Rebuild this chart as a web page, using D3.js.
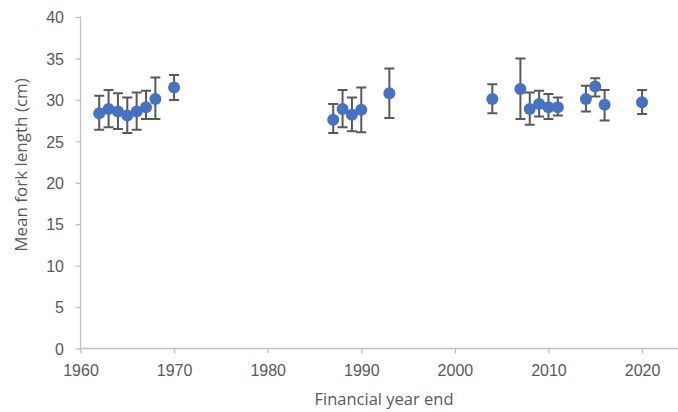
<!DOCTYPE html>
<html>
<head>
<meta charset="utf-8">
<script src="https://cdn.jsdelivr.net/npm/d3@7"></script>
<style>
  html, body { margin: 0; padding: 0; background: #fff; }
  svg { display: block; font-family: "Open Sans", "Liberation Sans", sans-serif; }
</style>
</head>
<body>
<svg id="chart" width="678" height="412"></svg>
<script>
// Financial year end
const years = [1962, 1963, 1964, 1965, 1966, 1967, 1968, 1970,
               1987, 1988, 1989, 1990, 1993,
               2004, 2007, 2008, 2009, 2010, 2011,
               2014, 2015, 2016, 2020];
// Mean fork length (cm)
const meanLength = [28.4, 28.9, 28.6, 28.1, 28.6, 29.1, 30.1, 31.5,
                    27.6, 28.9, 28.2, 28.8, 30.8,
                    30.1, 31.3, 28.9, 29.5, 29.1, 29.1,
                    30.1, 31.6, 29.4, 29.7];
// Upper and lower ends of the error bars (cm)
const upperBound = [30.5, 31.2, 30.8, 30.3, 30.9, 31.1, 32.7, 33.0,
                    29.5, 31.2, 30.3, 31.5, 33.8,
                    31.9, 35.0, 30.9, 31.1, 30.7, 30.3,
                    31.7, 32.6, 31.2, 31.2];
const lowerBound = [26.4, 26.7, 26.5, 26.0, 26.4, 27.7, 27.7, 30.0,
                    26.0, 26.7, 26.2, 26.1, 27.8,
                    28.4, 27.7, 27.0, 28.0, 27.7, 28.1,
                    28.6, 30.4, 27.5, 28.3];
const xTicks = [1960, 1970, 1980, 1990, 2000, 2010, 2020];
const yTicks = [0, 5, 10, 15, 20, 25, 30, 35, 40];

const svg = d3.select("#chart");
const plotLeft = 80.5, plotRight = 679.5, plotTop = 17, plotBottom = 348.5;

const x = d3.scaleLinear().domain([1960, 2024]).range([plotLeft, plotRight]);
const y = d3.scaleLinear().domain([0, 40]).range([plotBottom, plotTop]);

const axisColor = "#bfbfbf";
const textColor = "#595959";

// y axis
const yAxis = svg.append("g")
  .attr("transform", `translate(${plotLeft},0)`)
  .call(d3.axisLeft(y).tickValues(yTicks).tickSize(5).tickPadding(11.5).tickFormat(d3.format("d")));
// x axis
const xAxis = svg.append("g")
  .attr("transform", `translate(0,${plotBottom})`)
  .call(d3.axisBottom(x).tickValues(xTicks).tickSize(5).tickPadding(11.5).tickFormat(d3.format("d")));

[yAxis, xAxis].forEach(g => {
  g.select(".domain").attr("stroke", axisColor).attr("stroke-width", 1.3);
  g.selectAll(".tick line").attr("stroke", axisColor).attr("stroke-width", 1.3);
  g.selectAll(".tick text").attr("fill", textColor).style("font-size", "16px");
});
yAxis.select(".domain").attr("d", `M0,${plotBottom}V${plotTop - 0.5}`);
yAxis.selectAll(".tick text").attr("dy", "0.36em");
xAxis.select(".domain").attr("d", `M${plotLeft},0H${plotRight}`);

// axis titles
svg.append("text")
  .attr("x", 384).attr("y", 405)
  .attr("text-anchor", "middle")
  .attr("fill", textColor)
  .style("font-size", "16.5px")
  .text("Financial year end");

svg.append("text")
  .attr("transform", `translate(27,165) rotate(-90)`)
  .attr("text-anchor", "middle")
  .attr("fill", textColor)
  .style("font-size", "17px")
  .text("Mean fork length (cm)");

const data = years.map((yr, i) => ({
  year: yr, mean: meanLength[i], hi: upperBound[i], lo: lowerBound[i]
}));

// error bars
const errColor = "#595959";
const cap = 5;
const eb = svg.append("g").attr("stroke", errColor).attr("stroke-width", 2).attr("fill", "none");
eb.selectAll("path")
  .data(data)
  .join("path")
  .attr("d", d => {
    const cx = x(d.year), yh = y(d.hi), yl = y(d.lo);
    return `M${cx},${yh}V${yl}M${cx - cap},${yh}H${cx + cap}M${cx - cap},${yl}H${cx + cap}`;
  });

// markers
svg.append("g")
  .selectAll("circle")
  .data(data)
  .join("circle")
  .attr("cx", d => x(d.year))
  .attr("cy", d => y(d.mean))
  .attr("r", 6)
  .attr("fill", "#4472c4");
</script>
</body>
</html>
